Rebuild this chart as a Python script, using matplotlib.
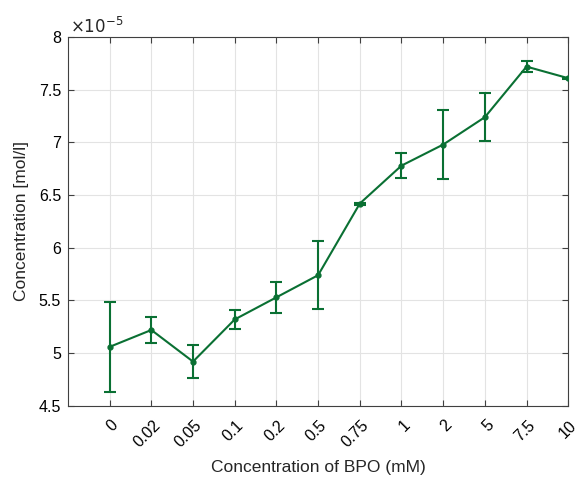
import numpy as np
import matplotlib.pyplot as plt
from matplotlib.ticker import FuncFormatter
from matplotlib.transforms import ScaledTranslation

plt.rcParams['font.family'] = ['Liberation Sans', 'DejaVu Sans']

# data (values in units of 1e-5 mol/l)
bpo_labels = ['0', '0.02', '0.05', '0.1', '0.2', '0.5', '0.75', '1', '2', '5', '7.5', '10']
conc = [5.06, 5.22, 4.92, 5.32, 5.53, 5.74, 6.42, 6.78, 6.98, 7.24, 7.72, 7.61]
err = [0.43, 0.12, 0.155, 0.09, 0.145, 0.32, 0.01, 0.12, 0.33, 0.23, 0.055, 0.005]

col = '#0a7033'
x = np.arange(1, len(conc) + 1)

fig = plt.figure(figsize=(5.81, 4.82), dpi=100)
ax = fig.add_axes([0.117, 0.158, 0.861, 0.765])

ax.errorbar(x, conc, yerr=err, color=col, lw=1.5, marker='o', ms=3.5,
            capsize=4.5, capthick=1.5, elinewidth=1.5, zorder=3)

ax.set_xlim(0, 12)
ax.set_ylim(4.5, 8)
ax.set_xticks(x)
ax.set_xticklabels(bpo_labels, rotation=45, ha='right', rotation_mode='anchor')
ax.set_yticks(np.arange(4.5, 8.01, 0.5))
ax.yaxis.set_major_formatter(FuncFormatter(lambda v, p: '%g' % v))

ax.grid(True, color='#e3e3e3', lw=0.8)
ax.set_axisbelow(True)
ax.tick_params(direction='in', top=True, right=True, labelsize=11.5, color='#404040', length=4)
ax.tick_params(axis='y', pad=5)
for s in ax.spines.values():
    s.set_color('#404040')
    s.set_linewidth(0.8)

# shift rotated tick labels like matlab does
off = ScaledTranslation(1 / 100, -7 / 100, fig.dpi_scale_trans)
for lab in ax.get_xticklabels():
    lab.set_transform(lab.get_transform() + off)

ax.set_xlabel('Concentration of BPO (mM)', fontsize=12.5, color='#262626', labelpad=7)
ax.set_ylabel('Concentration [mol/l]', fontsize=12.5, color='#262626', labelpad=7)
ax.text(0.005, 1.003, r'$\times10^{-5}$', transform=ax.transAxes, fontsize=12,
        ha='left', va='bottom', color='#262626')

fig.savefig('out.png', dpi=100)
